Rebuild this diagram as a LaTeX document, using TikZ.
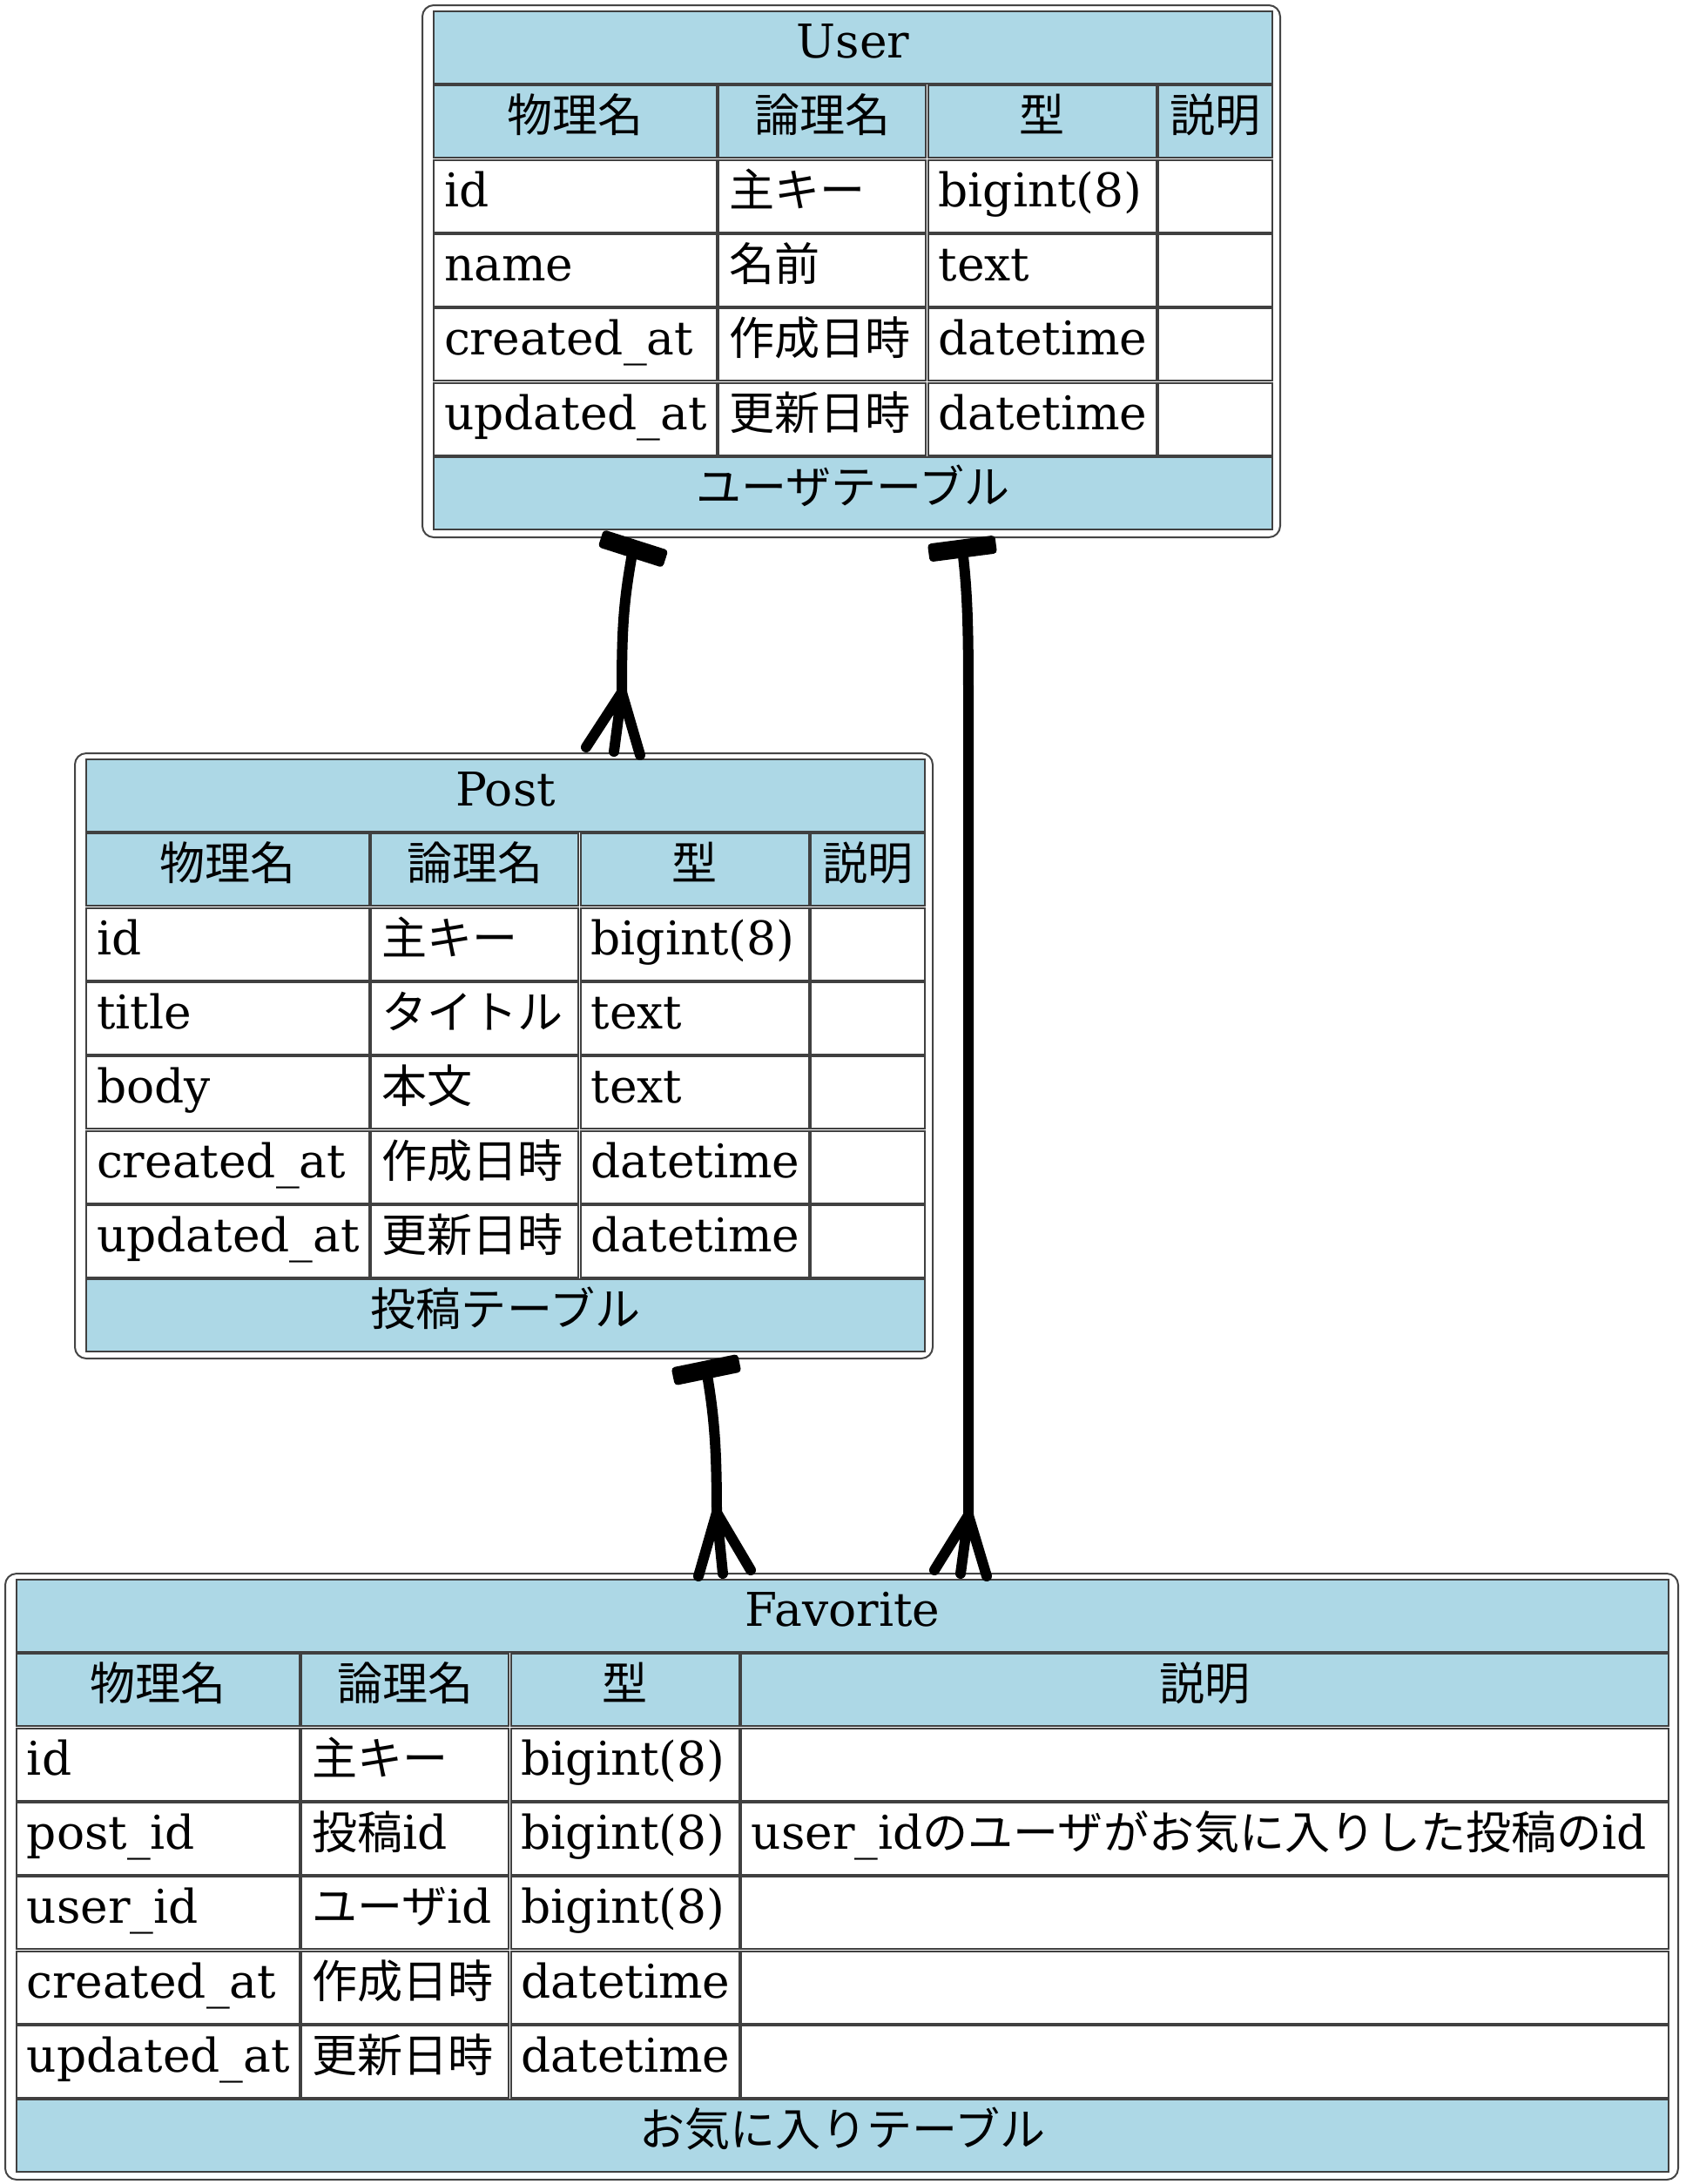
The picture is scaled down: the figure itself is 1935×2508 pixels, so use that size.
\documentclass[tikz,border=0pt]{standalone}
\usepackage{fontspec}
\setmainfont{DejaVu Serif}
\newfontfamily\cjk[Scale=0.975]{Noto Sans CJK JP}
\hyphenpenalty=10000
\exhyphenpenalty=10000
\definecolor{hdr}{HTML}{ADD8E6}
\definecolor{cellline}{HTML}{404040}
\definecolor{frameline}{HTML}{444444}
\tikzset{
  cell/.style={draw=cellline, line width=1pt, rectangle, inner xsep=6pt, inner ysep=0pt,
    text height=17.5pt, text depth=5.5pt, minimum height=41.5pt,
    font=\fontsize{26.7}{30}\selectfont, anchor=north west, outer sep=0pt},
  hcell/.style={cell, fill=hdr, align=center},
  dcell/.style={cell, fill=white, align=left},
  tframe/.style={draw=frameline, line width=1pt, rounded corners=6.5pt, fill=white,
    rectangle, anchor=north west, inner sep=0pt, outer sep=0pt},
  rel/.style={line width=6pt, line cap=round, line join=round, black},
  teebar/.style={fill=black, rectangle, rounded corners=2pt, minimum width=39pt,
    minimum height=10.5pt, inner sep=0pt}
}
\newcommand\setcols[2]{%
  \pgfmathsetmacro\xA{#1}\pgfmathsetmacro\xAe{#1+325}%
  \pgfmathsetmacro\xB{#1+327.3}\pgfmathsetmacro\xBe{#1+565.3}%
  \pgfmathsetmacro\xC{#1+567.6}\pgfmathsetmacro\xCe{#1+829.6}%
  \pgfmathsetmacro\xD{#1+831.9}\pgfmathsetmacro\xDe{#2}}
\newcommand\tcell[6]{%
  \pgfmathsetmacro\cw{((#4)-(#2))*0.5}\pgfmathsetmacro\tw{((#4)-(#2)-24)*0.5}%
  \node[#5, minimum width=\cw pt, text width=\tw pt] (#1) at (#2,#3) {#6};}
\newcommand\datarow[7]{%
  \tcell{#1a}{\xA}{#2}{\xAe}{#3}{#4}%
  \tcell{#1b}{\xB}{#2}{\xBe}{#3}{#5}%
  \tcell{#1c}{\xC}{#2}{\xCe}{#3}{#6}%
  \tcell{#1d}{\xD}{#2}{\xDe}{#3}{#7}}
\begin{document}
\begin{tikzpicture}[x=0.5pt,y=-0.5pt]
\useasboundingbox (0,0) rectangle (1935,2508);

% ---------- User ----------
\node[tframe, minimum width=492.5pt, minimum height=305.5pt] (user) at (485,6) {};
\setcols{498}{1461}
\tcell{u-title}{\xA}{13}{\xDe}{hcell}{User}
\datarow{u-h}{98.3}{hcell}{\cjk 物理名}{\cjk 論理名}{\cjk 型}{\cjk 説明}
\datarow{u-r1}{183.6}{dcell}{id}{\cjk 主キー}{bigint(8)}{}
\datarow{u-r2}{268.9}{dcell}{name}{\cjk 名前}{text}{}
\datarow{u-r3}{354.2}{dcell}{created\_at}{\cjk 作成日時}{datetime}{}
\datarow{u-r4}{439.5}{dcell}{updated\_at}{\cjk 更新日時}{datetime}{}
\tcell{u-foot}{\xA}{524.8}{\xDe}{hcell}{\cjk ユーザテーブル}

% ---------- Post ----------
\node[tframe, minimum width=492.5pt, minimum height=347.5pt] (post) at (86,865) {};
\setcols{99}{1062}
\tcell{p-title}{\xA}{872}{\xDe}{hcell}{Post}
\datarow{p-h}{957.3}{hcell}{\cjk 物理名}{\cjk 論理名}{\cjk 型}{\cjk 説明}
\datarow{p-r1}{1042.6}{dcell}{id}{\cjk 主キー}{bigint(8)}{}
\datarow{p-r2}{1127.9}{dcell}{title}{\cjk タイトル}{text}{}
\datarow{p-r3}{1213.2}{dcell}{body}{\cjk 本文}{text}{}
\datarow{p-r4}{1298.5}{dcell}{created\_at}{\cjk 作成日時}{datetime}{}
\datarow{p-r5}{1383.8}{dcell}{updated\_at}{\cjk 更新日時}{datetime}{}
\tcell{p-foot}{\xA}{1469.1}{\xDe}{hcell}{\cjk 投稿テーブル}

% ---------- Favorite ----------
\node[tframe, minimum width=960.5pt, minimum height=348pt] (fav) at (6,1807) {};
\setcols{19}{1916}
\tcell{f-title}{\xA}{1814}{\xDe}{hcell}{Favorite}
\datarow{f-h}{1899.3}{hcell}{\cjk 物理名}{\cjk 論理名}{\cjk 型}{\cjk 説明}
\datarow{f-r1}{1984.6}{dcell}{id}{\cjk 主キー}{bigint(8)}{}
\datarow{f-r2}{2069.9}{dcell}{post\_id}{{\cjk 投稿}id}{bigint(8)}{user\_id{\cjk のユーザがお気に入りした投稿の}id}
\datarow{f-r3}{2155.2}{dcell}{user\_id}{{\cjk ユーザ}id}{bigint(8)}{}
\datarow{f-r4}{2240.5}{dcell}{created\_at}{\cjk 作成日時}{datetime}{}
\datarow{f-r5}{2325.8}{dcell}{updated\_at}{\cjk 更新日時}{datetime}{}
\tcell{f-foot}{\xA}{2411.1}{\xDe}{hcell}{\cjk お気に入りテーブル}

% ---------- Relations ----------
% User -> Post
\node[teebar, rotate=-17.7] (tee1) at (727,630) {};
\coordinate (cf1) at (714,795);
\coordinate (cf1l) at (673,858);
\coordinate (cf1m) at (705,863);
\coordinate (cf1r) at (735,867);
\draw[rel] (tee1.center) .. controls (716,690) and (714,720) .. (cf1);
\draw[rel] (cf1) -- (cf1l) (cf1) -- (cf1m) (cf1) -- (cf1r);

% User -> Favorite
\node[teebar, rotate=7.4] (tee2) at (1105,630) {};
\coordinate (cf2) at (1112,1740);
\coordinate (cf2l) at (1073,1803);
\coordinate (cf2m) at (1103,1807);
\coordinate (cf2r) at (1133,1810);
\draw[rel] (tee2.center) .. controls (1111,680) and (1112,720) .. (1112,800) -- (cf2);
\draw[rel] (cf2) -- (cf2l) (cf2) -- (cf2m) (cf2) -- (cf2r);

% Post -> Favorite
\node[teebar, rotate=11.6] (tee3) at (811,1573) {};
\coordinate (cf3) at (823,1737);
\coordinate (cf3l) at (802,1810);
\coordinate (cf3m) at (830,1807);
\coordinate (cf3r) at (862,1803);
\draw[rel] (tee3.center) .. controls (820,1625) and (823,1660) .. (cf3);
\draw[rel] (cf3) -- (cf3l) (cf3) -- (cf3m) (cf3) -- (cf3r);
\end{tikzpicture}
\end{document}
